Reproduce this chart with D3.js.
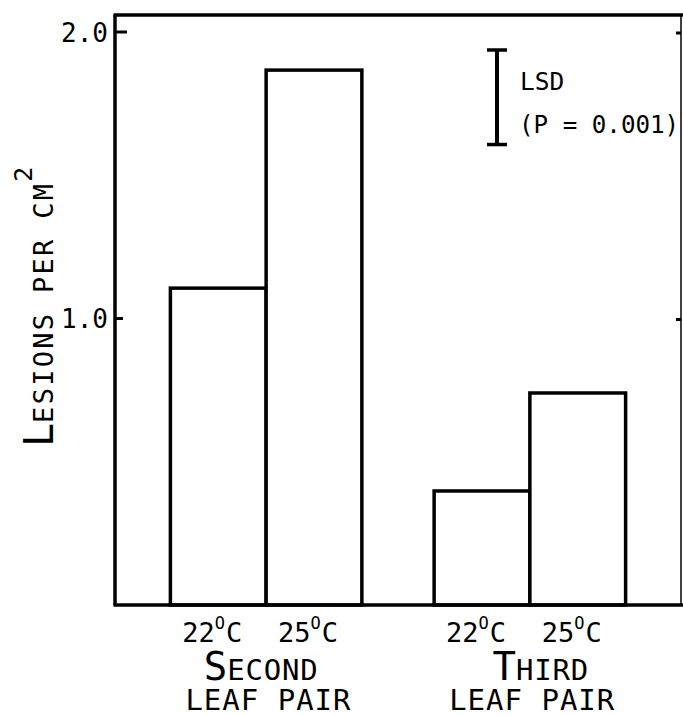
<!DOCTYPE html>
<html>
<head>
<meta charset="utf-8">
<script src="https://cdn.jsdelivr.net/npm/d3@7"></script>
<style>
  html, body { margin: 0; padding: 0; background: #fff; }
  text { font-family: "DejaVu Sans Mono", monospace; fill: #000; }
</style>
</head>
<body>
<svg id="chart" width="683" height="716"></svg>
<script>
// ---- data ----
const groups = ["Second", "Third"];
const temps = ["22", "25"];
const secondValues = [1.106, 1.867];
const thirdValues = [0.398, 0.740];
const yTicks = [1.0, 2.0];
const yTickLabels = ["1.0", "2.0"];
const lsdValue = 0.33;

const data = [
  ...temps.map((t, i) => ({ group: "Second", temp: t, value: secondValues[i] })),
  ...temps.map((t, i) => ({ group: "Third", temp: t, value: thirdValues[i] }))
];

const svg = d3.select("#chart");
const plotLeft = 115, plotRight = 681, plotTop = 15;
const y = d3.scaleLinear().domain([0, 2]).range([605, 32]);
const x0 = d3.scaleBand().domain(groups).range([plotLeft, plotRight]).paddingInner(0.274).paddingOuter(0.21);
const x1 = d3.scaleBand().domain(temps).range([0, x0.bandwidth()]).padding(0);

// bars
svg.append("g").selectAll("rect").data(data).join("rect")
  .attr("x", d => x0(d.group) + x1(d.temp))
  .attr("y", d => y(d.value))
  .attr("width", x1.bandwidth())
  .attr("height", d => y(0) - y(d.value))
  .attr("fill", "#fff")
  .attr("stroke", "#000")
  .attr("stroke-width", 3.5);

// frame
svg.append("line").attr("x1", plotLeft).attr("x2", plotLeft).attr("y1", plotTop).attr("y2", y(0))
  .attr("stroke", "#000").attr("stroke-width", 3.5);
svg.append("line").attr("x1", plotLeft - 1.5).attr("x2", 683).attr("y1", plotTop).attr("y2", plotTop)
  .attr("stroke", "#000").attr("stroke-width", 3.5);
svg.append("line").attr("x1", plotLeft - 1.5).attr("x2", 683).attr("y1", y(0)).attr("y2", y(0))
  .attr("stroke", "#000").attr("stroke-width", 3.5);
svg.append("line").attr("x1", plotRight).attr("x2", plotRight).attr("y1", plotTop).attr("y2", y(0))
  .attr("stroke", "#000").attr("stroke-width", 1.5);

// left axis labels
const yAxis = d3.axisLeft(y).tickValues(yTicks).tickSize(0).tickFormat((d, i) => yTickLabels[i]);
const gy = svg.append("g").attr("transform", `translate(${plotLeft},0)`).call(yAxis);
gy.select(".domain").remove();
gy.selectAll(".tick text")
  .attr("x", -7).attr("dy", "0.36em")
  .style("font-size", "26px").style("font-family", "DejaVu Sans Mono");
// left ticks (inward)
svg.append("g").selectAll("line").data(yTicks).join("line")
  .attr("x1", plotLeft).attr("x2", d => plotLeft + (d === 2 ? 12 : 8))
  .attr("y1", d => y(d)).attr("y2", d => y(d))
  .attr("stroke", "#000").attr("stroke-width", 3);
// right ticks (inward)
svg.append("g").selectAll("line").data(yTicks).join("line")
  .attr("x1", plotRight - 5).attr("x2", plotRight)
  .attr("y1", d => y(d) + 1).attr("y2", d => y(d) + 1)
  .attr("stroke", "#000").attr("stroke-width", 3);

// y label (small caps)
const yl = svg.append("text")
  .attr("transform", `translate(53,447) rotate(-90)`)
  .attr("text-anchor", "start");
yl.append("tspan").text("L").style("font-size", "40px");
yl.append("tspan").text("ESIONS PER CM").style("font-size", "27px").style("letter-spacing", "2.3px");
yl.append("tspan").text("2").attr("dy", -21).style("font-size", "25px");

// temperature labels
const tl = svg.append("g").selectAll("text").data(data).join("text")
  .attr("x", d => x0(d.group) + x1(d.temp) + x1.bandwidth() / 2 - 6)
  .attr("y", 642)
  .attr("text-anchor", "middle");
tl.append("tspan").text(d => d.temp).style("font-size", "27px");
tl.append("tspan").text("O").attr("dy", -13).style("font-size", "17px");
tl.append("tspan").text("C").attr("dy", 13).style("font-size", "27px").attr("dx", 1);

// group labels
const groupLabelShift = [-5, 11];
const gl = svg.append("g").selectAll("g").data(groups).join("g")
  .attr("transform", (d, i) => `translate(${x0(d) + x0.bandwidth() / 2 + groupLabelShift[i]},0)`);
const gt = gl.append("text").attr("y", 680).attr("text-anchor", "middle");
gt.append("tspan").text(d => d[0].toUpperCase()).style("font-size", "39px");
gt.append("tspan").text(d => d.slice(1).toUpperCase()).style("font-size", "29px").style("letter-spacing", "0.8px");
svg.append("g").selectAll("text").data(groups).join("text")
  .attr("x", d => x0(d) + 15).attr("y", 710)
  .style("font-size", "29px").style("letter-spacing", "1px").text("LEAF PAIR");

// LSD bar
const lsdX = 497, lsdTop = 50;
const lsdBottom = lsdTop + (y(0) - y(lsdValue));
svg.append("line").attr("x1", lsdX).attr("x2", lsdX).attr("y1", lsdTop).attr("y2", lsdBottom)
  .attr("stroke", "#000").attr("stroke-width", 4);
[lsdTop, lsdBottom].forEach(v => {
  svg.append("line").attr("x1", lsdX - 10).attr("x2", lsdX + 10).attr("y1", v).attr("y2", v)
    .attr("stroke", "#000").attr("stroke-width", 3.5);
});
svg.append("text").attr("x", 520).attr("y", 90).style("font-size", "24.5px").text("LSD");
svg.append("text").attr("x", 519).attr("y", 133).style("font-size", "24.2px").text("(P = 0.001)");
</script>
</body>
</html>
